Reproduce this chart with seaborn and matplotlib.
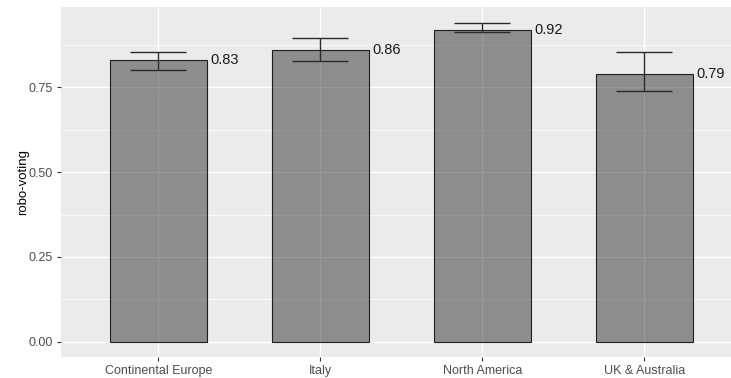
import matplotlib
matplotlib.use("Agg")
import matplotlib.pyplot as plt
import seaborn as sns
import pandas as pd
import numpy as np
from matplotlib.ticker import FixedLocator

# Share of robo-voting by market, with confidence intervals
regions = ["Continental Europe", "Italy", "North America", "UK & Australia"]
robo_voting = [0.83, 0.86, 0.92, 0.79]
ci_lower = [0.800, 0.829, 0.913, 0.739]
ci_upper = [0.855, 0.895, 0.941, 0.853]
y_ticks = [0.00, 0.25, 0.50, 0.75]
y_minor = [0.125, 0.375, 0.625, 0.875]

df = pd.DataFrame({"region": regions, "robo_voting": robo_voting,
                   "lo": ci_lower, "hi": ci_upper})

sns.set_theme(style="darkgrid", rc={
    "axes.facecolor": "#EBEBEB",
    "grid.color": "white",
    "axes.edgecolor": "none",
})
plt.rcParams["font.family"] = ["Liberation Sans", "DejaVu Sans"]

fig = plt.figure(figsize=(7.31, 3.78), dpi=100)
ax = fig.add_axes([60.7 / 731, 21 / 378, 1 - 60.7 / 731, 350 / 378])

sns.barplot(data=df, x="region", y="robo_voting", width=0.6, errorbar=None,
            color="#8d8d8d", edgecolor="#1e1e1e", linewidth=0.8, ax=ax,
            zorder=2)
for p in ax.patches:
    p.set_facecolor((0, 0, 0, 0.4))
    p.set_edgecolor((0.12, 0.12, 0.12, 1))

x = np.arange(len(df))
vals = df["robo_voting"].to_numpy()
yerr = np.vstack([vals - df["lo"].to_numpy(), df["hi"].to_numpy() - vals])
ax.errorbar(x, vals, yerr=yerr, fmt="none", ecolor="#2a2a2a",
            elinewidth=1.0, capsize=20.5, capthick=1.0, zorder=3)

for xi, v in zip(x, vals):
    ax.annotate(f"{v:.2f}", xy=(xi + 0.3, v), xytext=(2.5, 0),
                textcoords="offset points", ha="left", va="center",
                fontsize=10.5, color="#1a1a1a", zorder=4)

ax.set_xlim(-0.604, 3.536)
ax.set_ylim(-0.045, 0.987)
ax.yaxis.set_major_locator(FixedLocator(y_ticks))
ax.yaxis.set_minor_locator(FixedLocator(y_minor))
ax.set_yticklabels([f"{t:.2f}" for t in y_ticks])

ax.grid(which="major", axis="both", color="white", linewidth=1.0, zorder=0)
ax.grid(which="minor", axis="y", color="white", linewidth=0.5, zorder=0)
ax.set_axisbelow(True)

ax.tick_params(axis="both", which="major", length=3, width=0.8,
               color="#333333", labelcolor="#4d4d4d", labelsize=9,
               pad=2.5, bottom=True, left=True)
ax.tick_params(axis="y", which="minor", length=0)
for s in ax.spines.values():
    s.set_visible(False)

ax.set_xlabel("")
ax.set_ylabel("robo-voting", fontsize=9.5, color="black", labelpad=0)

fig.savefig("out.png", dpi=100, facecolor="white")
